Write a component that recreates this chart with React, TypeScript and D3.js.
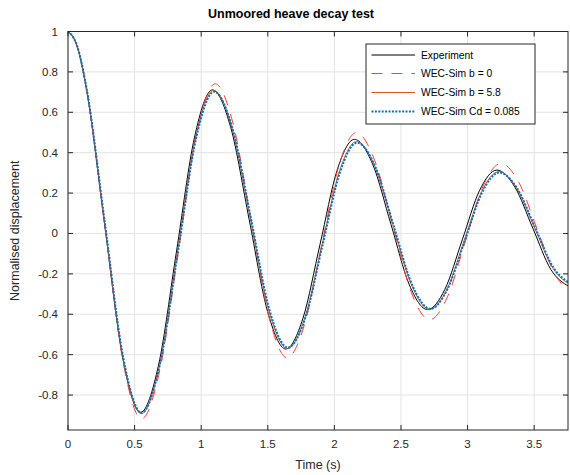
import React from "react";
import * as d3 from "d3";

const expT = [0, 0.068, 0.136, 0.2725, 0.409, 0.545, 0.68, 0.815, 0.95, 1.085, 1.2225, 1.36, 1.4975, 1.635, 1.764, 1.8925, 2.021, 2.15, 2.2875, 2.425, 2.5625, 2.7, 2.83, 2.96, 3.09, 3.22, 3.355, 3.49, 3.625, 3.76];
const expV = [1, 0.928, 0.724, 0.058, -0.609, -0.885, -0.651, -0.087, 0.477, 0.711, 0.523, 0.07, -0.384, -0.572, -0.42, -0.053, 0.314, 0.466, 0.343, 0.045, -0.254, -0.377, -0.276, -0.032, 0.213, 0.314, 0.23, 0.026, -0.178, -0.262];

const b0T = [0, 0.069, 0.138, 0.276, 0.414, 0.552, 0.69, 0.8285, 0.967, 1.105, 1.24, 1.375, 1.51, 1.645, 1.775, 1.9045, 2.034, 2.164, 2.302, 2.4395, 2.577, 2.715, 2.849, 2.9825, 3.116, 3.25, 3.385, 3.52, 3.655, 3.79];
const b0V = [1, 0.927, 0.719, 0.041, -0.637, -0.918, -0.675, -0.089, 0.498, 0.741, 0.542, 0.063, -0.416, -0.615, -0.452, -0.058, 0.336, 0.499, 0.363, 0.036, -0.291, -0.427, -0.314, -0.04, 0.234, 0.347, 0.253, 0.026, -0.201, -0.295];

const b58T = [0, 0.069, 0.1375, 0.275, 0.4125, 0.55, 0.686, 0.822, 0.958, 1.094, 1.2325, 1.371, 1.5095, 1.648, 1.7775, 1.907, 2.0365, 2.166, 2.3035, 2.441, 2.5785, 2.716, 2.8455, 2.975, 3.1045, 3.234, 3.3695, 3.505, 3.6405, 3.776];
const b58V = [1, 0.928, 0.723, 0.054, -0.615, -0.892, -0.658, -0.092, 0.474, 0.708, 0.521, 0.069, -0.383, -0.57, -0.42, -0.058, 0.305, 0.455, 0.333, 0.04, -0.254, -0.376, -0.276, -0.035, 0.206, 0.306, 0.224, 0.026, -0.172, -0.254];

const cdT = [0, 0.069, 0.138, 0.276, 0.414, 0.552, 0.688, 0.825, 0.961, 1.097, 1.236, 1.375, 1.513, 1.652, 1.782, 1.911, 2.041, 2.17, 2.308, 2.445, 2.583, 2.72, 2.85, 2.979, 3.109, 3.238, 3.374, 3.509, 3.645, 3.78];
const cdV = [1, 0.928, 0.724, 0.056, -0.612, -0.888, -0.655, -0.093, 0.469, 0.702, 0.517, 0.069, -0.38, -0.565, -0.417, -0.058, 0.301, 0.449, 0.329, 0.038, -0.253, -0.373, -0.274, -0.036, 0.203, 0.302, 0.221, 0.026, -0.169, -0.25];

const xTicks = [0, 0.5, 1, 1.5, 2, 2.5, 3, 3.5];
const yTicks = [-0.8, -0.6, -0.4, -0.2, 0, 0.2, 0.4, 0.6, 0.8, 1];
const seriesNames = ["Experiment", "WEC-Sim b = 0", "WEC-Sim b = 5.8", "WEC-Sim Cd = 0.085"];

const W = 570, H = 475;
const L = 68, R = 568, T = 31.5, B = 430;
const FONT = "'Liberation Sans', Arial, Helvetica, sans-serif";

export default function App() {
  const x = d3.scaleLinear().domain([0, 3.754]).range([L, R]);
  const y = d3.scaleLinear().domain([-0.973, 1]).range([B, T]);
  const line = d3
    .line<[number, number]>()
    .x((d) => x(d[0]))
    .y((d) => y(d[1]))
    .curve(d3.curveMonotoneX);
  const mk = (ts: number[], vs: number[]) => ts.map((t, i) => [t, vs[i]] as [number, number]);

  const styles = [
    { stroke: "#000000", width: 1, dash: "" },
    { stroke: "#ff3b3b", width: 1, dash: "11,9" },
    { stroke: "#D95319", width: 1, dash: "" },
    { stroke: "#0072BD", width: 2, dash: "2,1.4" },
  ];
  const data = [mk(expT, expV), mk(b0T, b0V), mk(b58T, b58V), mk(cdT, cdV)];
  const legY = [55, 73.5, 92.5, 111.5];
  const axisColor = "#262626";
  const tickLen = 5;

  return (
    <svg width={W} height={H} style={{ position: "absolute", left: 0, top: 0, background: "#fff" }} fontFamily={FONT}>
      <rect x={0} y={0} width={W} height={H} fill="#fff" />
      <defs>
        <clipPath id="plotclip">
          <rect x={L} y={T} width={R - L} height={B - T} />
        </clipPath>
      </defs>
      {/* grid */}
      {xTicks.map((t) => (
        <line key={"gx" + t} x1={x(t)} x2={x(t)} y1={T} y2={B} stroke="#e3e3e3" strokeWidth={1} />
      ))}
      {yTicks.map((t) => (
        <line key={"gy" + t} x1={L} x2={R} y1={y(t)} y2={y(t)} stroke="#e3e3e3" strokeWidth={1} />
      ))}
      {/* series */}
      <g clipPath="url(#plotclip)">
        {data.map((d, i) => (
          <path
            key={i}
            d={line(d) || ""}
            fill="none"
            stroke={styles[i].stroke}
            strokeWidth={styles[i].width}
            strokeDasharray={styles[i].dash || undefined}
          />
        ))}
      </g>
      {/* axes box */}
      <rect x={L} y={T} width={R - L} height={B - T} fill="none" stroke={axisColor} strokeWidth={1} />
      {xTicks.map((t) => (
        <g key={"tx" + t}>
          <line x1={x(t)} x2={x(t)} y1={B} y2={B - tickLen} stroke={axisColor} />
          <line x1={x(t)} x2={x(t)} y1={T} y2={T + tickLen} stroke={axisColor} />
          <text x={x(t)} y={448} textAnchor="middle" fontSize={11.5} fill="#262626">
            {String(t)}
          </text>
        </g>
      ))}
      {yTicks.map((t) => (
        <g key={"ty" + t}>
          <line x1={L} x2={L + tickLen} y1={y(t)} y2={y(t)} stroke={axisColor} />
          <line x1={R} x2={R - tickLen} y1={y(t)} y2={y(t)} stroke={axisColor} />
          <text x={58} y={y(t) + 4} textAnchor="end" fontSize={11.5} fill="#262626">
            {String(t)}
          </text>
        </g>
      ))}
      {/* labels */}
      <text x={208} y={18} fontSize={12.5} fontWeight="bold" fill="#000">
        Unmoored heave decay test
      </text>
      <text x={(L + R) / 2} y={469} textAnchor="middle" fontSize={12.5} fill="#262626">
        Time (s)
      </text>
      <text
        transform={`translate(19, ${(T + B) / 2}) rotate(-90)`}
        textAnchor="middle"
        fontSize={12.5}
        fill="#262626"
      >
        Normalised displacement
      </text>
      {/* legend */}
      <rect x={366} y={44} width={169} height={80} fill="#fff" stroke={axisColor} strokeWidth={1} />
      {seriesNames.map((n, i) => (
        <g key={n}>
          <line
            x1={371.5}
            x2={415}
            y1={legY[i]}
            y2={legY[i]}
            stroke={styles[i].stroke}
            strokeWidth={styles[i].width}
            strokeDasharray={styles[i].dash || undefined}
          />
          <text x={421} y={legY[i] + 3.6} fontSize={10.3} fill="#000">
            {n}
          </text>
        </g>
      ))}
    </svg>
  );
}
